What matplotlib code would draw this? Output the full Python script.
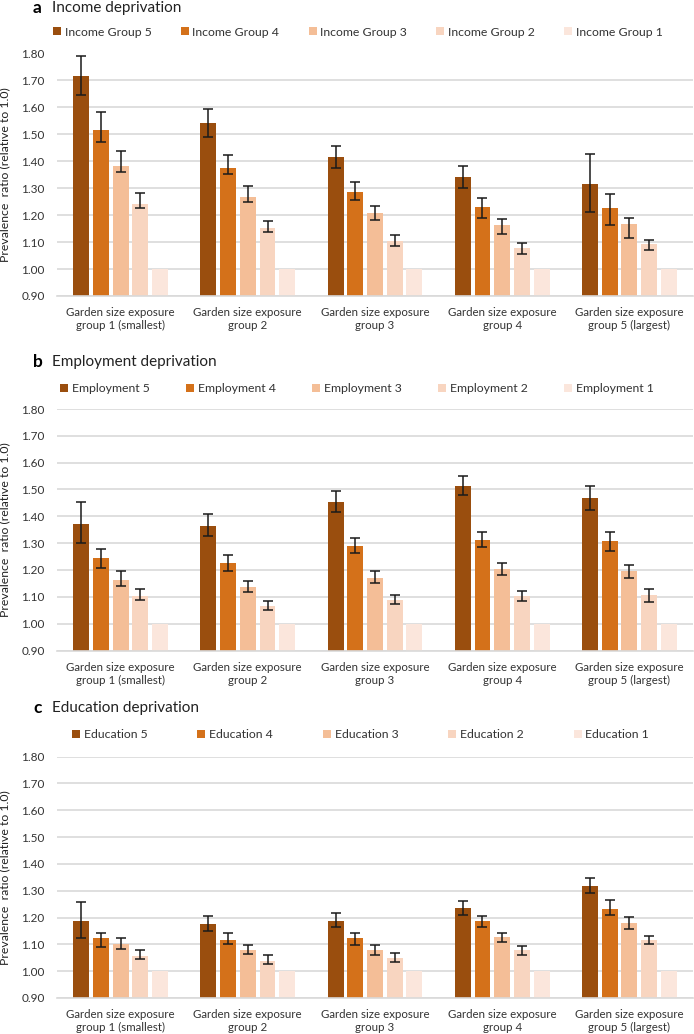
import matplotlib
matplotlib.use("Agg")
import matplotlib.pyplot as plt
import numpy as np

plt.rcParams['font.family'] = ['Lato', 'DejaVu Sans']

categories = ["Garden size exposure\ngroup 1 (smallest)", "Garden size exposure\ngroup 2",
              "Garden size exposure\ngroup 3", "Garden size exposure\ngroup 4",
              "Garden size exposure\ngroup 5 (largest)"]
colors = ["#9A4E0E", "#D4711A", "#F4BE97", "#F8D5C0", "#FBE6DC"]

# Income deprivation (series 5 -> 1), values and CI bounds per garden group
income_labels = ["Income Group 5", "Income Group 4", "Income Group 3", "Income Group 2", "Income Group 1"]
income_vals = [[1.718, 1.541, 1.416, 1.341, 1.317],
               [1.516, 1.376, 1.287, 1.232, 1.227],
               [1.381, 1.268, 1.207, 1.162, 1.167],
               [1.240, 1.152, 1.104, 1.078, 1.093],
               [1.0, 1.0, 1.0, 1.0, 1.0]]
income_lo = [[1.646, 1.491, 1.376, 1.302, 1.213],
             [1.471, 1.351, 1.257, 1.190, 1.165],
             [1.362, 1.250, 1.182, 1.129, 1.114],
             [1.227, 1.136, 1.084, 1.055, 1.072],
             None]
income_hi = [[1.790, 1.595, 1.456, 1.382, 1.426],
             [1.582, 1.422, 1.323, 1.263, 1.278],
             [1.437, 1.308, 1.235, 1.184, 1.188],
             [1.283, 1.179, 1.125, 1.095, 1.109],
             None]

# Employment deprivation
employ_labels = ["Employment 5", "Employment 4", "Employment 3", "Employment 2", "Employment 1"]
employ_vals = [[1.373, 1.365, 1.453, 1.513, 1.468],
               [1.244, 1.225, 1.290, 1.313, 1.309],
               [1.163, 1.138, 1.172, 1.204, 1.196],
               [1.104, 1.065, 1.090, 1.102, 1.108],
               [1.0, 1.0, 1.0, 1.0, 1.0]]
employ_lo = [[1.301, 1.327, 1.416, 1.478, 1.423],
             [1.208, 1.197, 1.263, 1.285, 1.271],
             [1.141, 1.118, 1.153, 1.182, 1.170],
             [1.088, 1.050, 1.073, 1.083, 1.080],
             None]
employ_hi = [[1.453, 1.408, 1.493, 1.552, 1.514],
             [1.279, 1.255, 1.320, 1.343, 1.343],
             [1.195, 1.160, 1.195, 1.226, 1.220],
             [1.129, 1.085, 1.106, 1.120, 1.130],
             None]

# Education deprivation
educ_labels = ["Education 5", "Education 4", "Education 3", "Education 2", "Education 1"]
educ_vals = [[1.186, 1.176, 1.186, 1.236, 1.317],
             [1.122, 1.117, 1.122, 1.186, 1.231],
             [1.102, 1.078, 1.078, 1.127, 1.181],
             [1.058, 1.038, 1.048, 1.078, 1.117],
             [1.0, 1.0, 1.0, 1.0, 1.0]]
educ_lo = [[1.123, 1.149, 1.164, 1.211, 1.290],
           [1.090, 1.100, 1.099, 1.164, 1.211],
           [1.083, 1.064, 1.060, 1.109, 1.159],
           [1.046, 1.026, 1.034, 1.060, 1.100],
           None]
educ_hi = [[1.256, 1.206, 1.217, 1.260, 1.349],
           [1.143, 1.143, 1.143, 1.206, 1.267],
           [1.124, 1.099, 1.099, 1.143, 1.202],
           [1.079, 1.060, 1.069, 1.095, 1.130],
           None]

yticks = [0.90, 1.00, 1.10, 1.20, 1.30, 1.40, 1.50, 1.60, 1.70, 1.80]

panels = [
    ("a", "Income deprivation", income_labels, income_vals, income_lo, income_hi),
    ("b", "Employment deprivation", employ_labels, employ_vals, employ_lo, employ_hi),
    ("c", "Education deprivation", educ_labels, educ_vals, educ_lo, educ_hi),
]

W, H = 694, 1034
fig = plt.figure(figsize=(W / 100, H / 100), dpi=100)

# (axes top px, axes bottom px, title y px, legend y px, legend x px, column spacing)
layout = [(53.5, 296, 8, 32, 53, 2.4),
          (409, 650.5, 362, 389, 60, 3.0),
          (756.5, 998, 708, 735, 72, 4.1)]

x = np.arange(len(categories))
step, width = 0.155, 0.125

for (letter, title, labels, vals, lo, hi), (top, bot, ty, ly, lx, cs) in zip(panels, layout):
    axh = bot - top
    ax = fig.add_axes([57 / W, 1 - bot / H, 636 / W, axh / H])
    for i in range(5):
        v = np.array(vals[i])
        pos = x + (i - 2) * step
        ax.bar(pos, v, width=width, color=colors[i], label=labels[i], zorder=2)
        if lo[i] is not None:
            err = [v - np.array(lo[i]), np.array(hi[i]) - v]
            ax.errorbar(pos, v, yerr=err, fmt="none", ecolor="#1a1a1a",
                        elinewidth=1.1, capsize=3.5, capthick=1.1, zorder=3)
    ax.set_ylim(0.9, 1.8)
    ax.set_xlim(-0.5, 4.5)
    ax.set_yticks(yticks)
    ax.set_yticklabels([f"{t:.2f}" for t in yticks], fontsize=8.5, color="#333333")
    ax.set_xticks(x)
    ax.set_xticklabels(categories, fontsize=8.3, color="#333333", linespacing=1.25)
    ax.tick_params(axis="y", length=0, pad=9)
    ax.tick_params(axis="x", length=0, pad=8)
    ax.grid(axis="y", color="#D9D9D9", linewidth=1.2, zorder=0)
    ax.set_axisbelow(True)
    for s in ["top", "right", "left"]:
        ax.spines[s].set_visible(False)
    ax.spines["bottom"].set_color("#D9D9D9")
    ax.spines["bottom"].set_linewidth(1.2)
    ax.set_ylabel("Prevalence  ratio (relative to 1.0)", fontsize=8.8, color="#222222", labelpad=8)
    ax.legend(ncol=5, loc="center left",
              bbox_to_anchor=((lx - 57) / 636, 1 + (top - ly) / axh),
              frameon=False, fontsize=8.8, handlelength=0.65, handleheight=0.65,
              handletextpad=0.3, borderaxespad=0, borderpad=0, columnspacing=cs,
              labelcolor="#333333")
    fig.text(33 / W, 1 - ty / H, letter, fontsize=12.5, fontweight="bold", va="center", ha="left")
    fig.text(52 / W, 1 - ty / H, title, fontsize=11, va="center", ha="left", color="#222222")

fig.savefig("out.png", dpi=100)
